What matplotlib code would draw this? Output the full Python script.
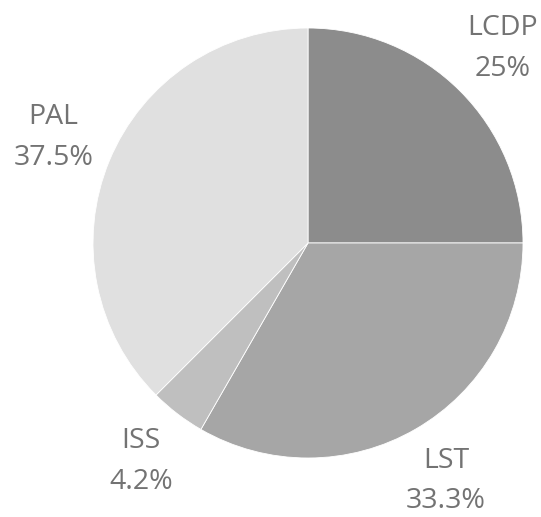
import matplotlib.pyplot as plt

labels = ['LCDP', 'LST', 'ISS', 'PAL']
shares = [25, 33.3, 4.2, 37.5]
colors = ['#8c8c8c', '#a6a6a6', '#bfbfbf', '#e0e0e0']

fig = plt.figure(figsize=(5.41, 5.17), dpi=100)
ax = fig.add_axes([0, 0, 1, 1])

texts = [f'{l}\n{s:g}%' for l, s in zip(labels, shares)]
wedges, txts = ax.pie(shares, labels=texts, colors=colors, startangle=90,
                      counterclock=False, center=(308, 274), radius=215,
                      labeldistance=1.28, frame=True,
                      wedgeprops=dict(edgecolor='white', linewidth=0.6),
                      textprops=dict(fontsize=20.5, color='#737373',
                                     family='Open Sans', linespacing=1.6))
for t in txts:
    t.set_horizontalalignment('center')
    t.set_verticalalignment('center')

ax.set_xlim(0, 541)
ax.set_ylim(0, 517)
ax.set_aspect('equal')
ax.axis('off')

fig.savefig('out.png', dpi=100)
